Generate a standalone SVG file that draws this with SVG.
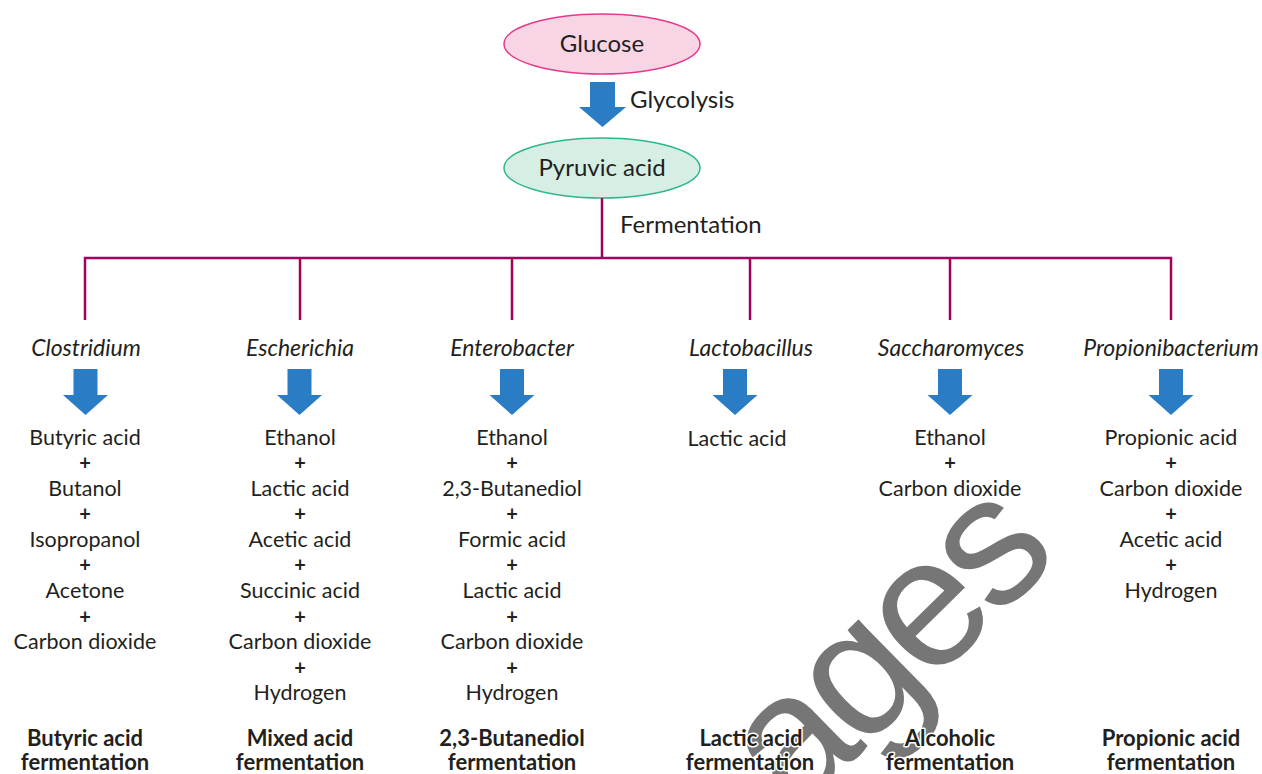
<svg xmlns="http://www.w3.org/2000/svg" width="1262" height="774" viewBox="0 0 1262 774">
<defs>
<style>
text{font-family:Lato,"Noto Sans","Liberation Sans",sans-serif;fill:#231f20;font-size:21.5px;text-anchor:middle}
.big{font-size:24px}
.it{font-style:italic;font-size:23px}
.b{font-weight:bold;font-size:22px}
.halo{stroke:#fff;stroke-width:3;paint-order:stroke;stroke-linejoin:round}
.plus{font-weight:bold;font-size:20px}
.st{text-anchor:start}
.conn{stroke:#a3005d;stroke-width:2.5;fill:none}
.arr{fill:#2a7dc4}
.wm{font-family:"Liberation Sans",sans-serif;font-size:184px;letter-spacing:-8px;fill:#767676;text-anchor:start}
</style>
<path id="ar" class="arr" d="M-12,0 H12 V26 H22.5 L0,46 L-22.5,26 H-12 Z"/>
</defs>
<rect width="1262" height="774" fill="#fff"/>
<g id="glucose">
<ellipse cx="602" cy="44" rx="98" ry="30" fill="#f8d5e5" stroke="#e6388c" stroke-width="1.5"/>
<text class="big" x="602" y="52">Glucose</text>
</g>
<g id="glycolysis">
<path class="arr" d="M590,82 H615 V107 H626 L602.5,127 L579,107 H590 Z"/>
<text class="big st" x="630" y="108">Glycolysis</text>
</g>
<g id="pyruvic">
<ellipse cx="602" cy="168" rx="98" ry="30" fill="#d6eee3" stroke="#2fb68c" stroke-width="1.5"/>
<text class="big" x="602" y="176">Pyruvic acid</text>
</g>
<g id="connectors">
<path class="conn" d="M602,198 V258 M85,320 V258 H1171 V320 M300,258 V320 M512,258 V320 M750,258 V320 M950,258 V320"/>
<text class="big st" x="620" y="233">Fermentation</text>
</g>
<g id="watermark">
<text class="wm" transform="translate(795,818) rotate(-44.5)">ages</text>
</g>
<g id="clostridium">
<text class="it" x="86" y="356">Clostridium</text>
<use href="#ar" x="85.5" y="369"/>
<text x="85" y="445">Butyric acid</text>
<text class="plus" x="85" y="470">+</text>
<text x="85" y="496">Butanol</text>
<text class="plus" x="85" y="521">+</text>
<text x="85" y="547">Isopropanol</text>
<text class="plus" x="85" y="572">+</text>
<text x="85" y="598">Acetone</text>
<text class="plus" x="85" y="624">+</text>
<text x="85" y="649">Carbon dioxide</text>
<text class="b"><tspan x="85" y="746">Butyric acid</tspan><tspan x="85" y="770">fermentation</tspan></text>
</g>
<g id="escherichia">
<text class="it" x="300" y="356">Escherichia</text>
<use href="#ar" x="299.5" y="369"/>
<text x="300" y="445">Ethanol</text>
<text class="plus" x="300" y="470">+</text>
<text x="300" y="496">Lactic acid</text>
<text class="plus" x="300" y="521">+</text>
<text x="300" y="547">Acetic acid</text>
<text class="plus" x="300" y="572">+</text>
<text x="300" y="598">Succinic acid</text>
<text class="plus" x="300" y="624">+</text>
<text x="300" y="649">Carbon dioxide</text>
<text class="plus" x="300" y="675">+</text>
<text x="300" y="700">Hydrogen</text>
<text class="b"><tspan x="300" y="746">Mixed acid</tspan><tspan x="300" y="770">fermentation</tspan></text>
</g>
<g id="enterobacter">
<text class="it" x="512" y="356">Enterobacter</text>
<use href="#ar" x="512" y="369"/>
<text x="512" y="445">Ethanol</text>
<text class="plus" x="512" y="470">+</text>
<text x="512" y="496">2,3-Butanediol</text>
<text class="plus" x="512" y="521">+</text>
<text x="512" y="547">Formic acid</text>
<text class="plus" x="512" y="572">+</text>
<text x="512" y="598">Lactic acid</text>
<text class="plus" x="512" y="624">+</text>
<text x="512" y="649">Carbon dioxide</text>
<text class="plus" x="512" y="675">+</text>
<text x="512" y="700">Hydrogen</text>
<text class="b"><tspan x="512" y="746">2,3-Butanediol</tspan><tspan x="512" y="770">fermentation</tspan></text>
</g>
<g id="lactobacillus">
<text class="it" x="751" y="356">Lactobacillus</text>
<use href="#ar" x="735" y="369"/>
<text x="737" y="446">Lactic acid</text>
<text class="b halo"><tspan x="751" y="746">Lactic acid</tspan><tspan x="750" y="770">fermentation</tspan></text>
</g>
<g id="saccharomyces">
<text class="it" x="951" y="356">Saccharomyces</text>
<use href="#ar" x="950" y="369"/>
<text x="950" y="445">Ethanol</text>
<text class="plus" x="950" y="470">+</text>
<text x="950" y="496">Carbon dioxide</text>
<text class="b halo"><tspan x="950" y="746">Alcoholic</tspan><tspan x="950" y="770">fermentation</tspan></text>
</g>
<g id="propionibacterium">
<text class="it" x="1171" y="356">Propionibacterium</text>
<use href="#ar" x="1171" y="369"/>
<text x="1171" y="445">Propionic acid</text>
<text class="plus" x="1171" y="470">+</text>
<text x="1171" y="496">Carbon dioxide</text>
<text class="plus" x="1171" y="521">+</text>
<text x="1171" y="547">Acetic acid</text>
<text class="plus" x="1171" y="572">+</text>
<text x="1171" y="598">Hydrogen</text>
<text class="b"><tspan x="1171" y="746">Propionic acid</tspan><tspan x="1171" y="770">fermentation</tspan></text>
</g>
</svg>
